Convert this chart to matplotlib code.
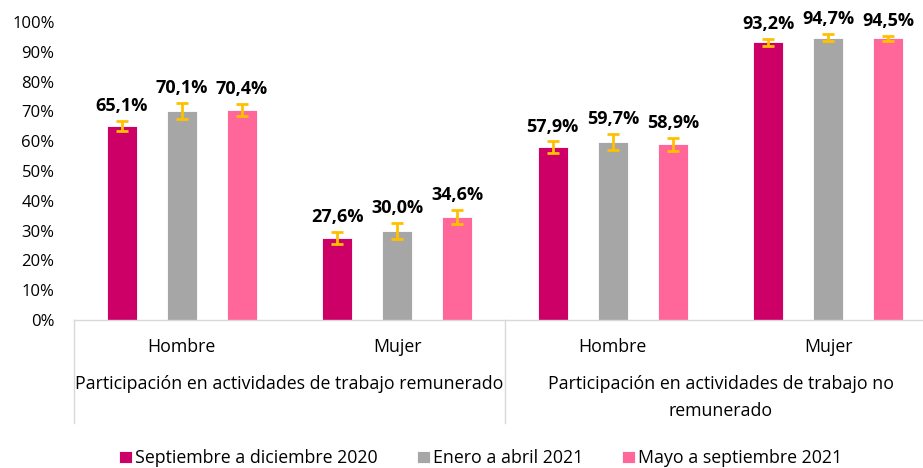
import numpy as np
import matplotlib
matplotlib.use("Agg")
from matplotlib import pyplot as plt
from matplotlib.transforms import blended_transform_factory

plt.rcParams['font.family'] = ['Open Sans', 'DejaVu Sans']

categories = ['Hombre', 'Mujer', 'Hombre', 'Mujer']
groups = ['Participación en actividades de trabajo remunerado',
          'Participación en actividades de trabajo no\nremunerado']
series = ['Septiembre a diciembre 2020', 'Enero a abril 2021', 'Mayo a septiembre 2021']
values = [
    [65.1, 27.6, 57.9, 93.2],
    [70.1, 30.0, 59.7, 94.7],
    [70.4, 34.6, 58.9, 94.5],
]
errors = [
    [1.8, 2.0, 2.0, 1.2],
    [2.7, 2.7, 2.8, 1.2],
    [2.1, 2.4, 2.2, 0.9],
]
colors = ['#CC0066', '#A6A6A6', '#FF6699']

fig = plt.figure(figsize=(9.23, 4.68), dpi=100)
ax = fig.add_axes([74 / 923, 1 - 320 / 468, 862 / 923, 298 / 468])

x = np.arange(len(categories))
bw = 0.139
step = 0.279
for i, (vals, errs, c) in enumerate(zip(values, errors, colors)):
    xs = x + (i - 1) * step
    ax.bar(xs, vals, bw, color=c, edgecolor='white', linewidth=0.6, label=series[i], zorder=2)
    ax.errorbar(xs, vals, yerr=errs, fmt='none', ecolor='#FFC000', elinewidth=2,
                capsize=4.5, capthick=2, zorder=3)
    for xi, v, e in zip(xs, vals, errs):
        ax.text(xi, v + e + 2.0, f"{v:.1f}%".replace('.', ','), ha='center', va='bottom',
                fontsize=13, fontweight='bold', color='black')

ax.set_xlim(-0.5, len(categories) - 0.5)
ax.set_ylim(0, 100)
ax.set_yticks(np.arange(0, 101, 10))
ax.set_yticklabels([f"{t}%" for t in range(0, 101, 10)], fontsize=12)
ax.tick_params(axis='y', length=0, pad=14)
ax.set_xticks(x)
ax.set_xticklabels(categories, fontsize=12.8)
ax.tick_params(axis='x', length=0, pad=13)
for s in ['top', 'right', 'left']:
    ax.spines[s].set_visible(False)
ax.spines['bottom'].set_color('#D9D9D9')
ax.spines['bottom'].set_linewidth(1)

# multi-level category separators
for xa in [0.0, 0.5, 1.0]:
    ax.plot([xa, xa], [0, -0.346], transform=ax.transAxes, color='#D9D9D9',
            lw=1, clip_on=False)

trans = blended_transform_factory(ax.transData, ax.transAxes)
ax.text(0.5, -0.185, groups[0], transform=trans, ha='center', va='top', fontsize=12.8)
ax.text(2.5, -0.185, groups[1], transform=trans, ha='center', va='top', fontsize=12.8,
        linespacing=1.65)

fig.legend(loc='center', bbox_to_anchor=(481 / 923, 1 - 458 / 468), ncol=3, frameon=False,
           fontsize=12.8, handlelength=0.7, handleheight=0.7, handletextpad=0.2,
           columnspacing=2.2)

fig.savefig('out.png', dpi=100)
